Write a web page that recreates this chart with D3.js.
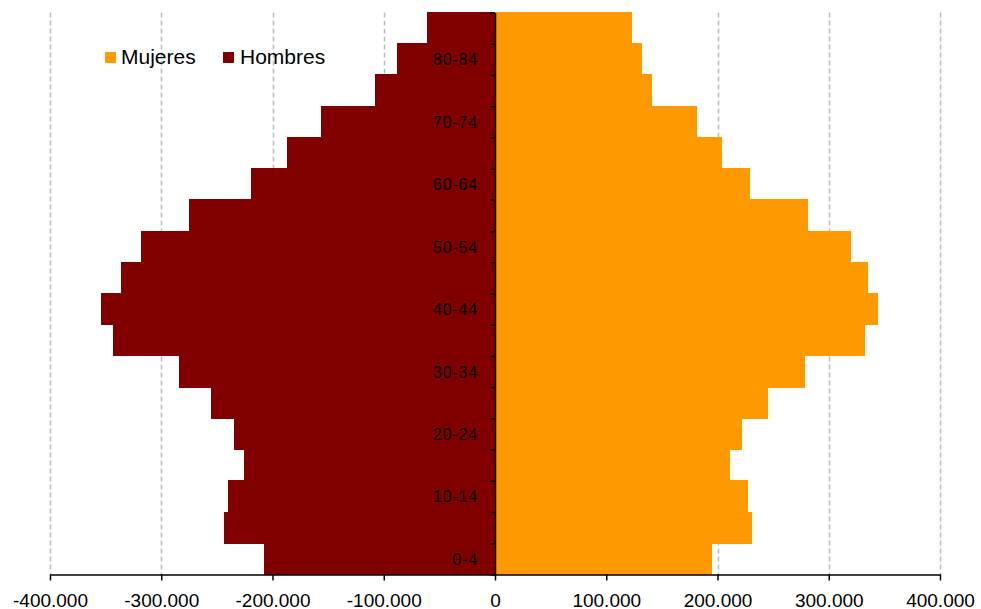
<!DOCTYPE html>
<html>
<head>
<meta charset="utf-8">
<script src="https://cdn.jsdelivr.net/npm/d3@7"></script>
<style>
  html, body { margin: 0; padding: 0; background: #fff; }
  svg { display: block; font-family: "Liberation Sans", Arial, sans-serif; }
</style>
</head>
<body>
<svg id="chart" width="981" height="609"></svg>
<script>
const ages = ["0-4","5-9","10-14","15-19","20-24","25-29","30-34","35-39","40-44","45-49","50-54","55-59","60-64","65-69","70-74","75-79","80-84","85+"];
const hombres = [208000, 244000, 240000, 226000, 235000, 255000, 284000, 343000, 354000, 336000, 318000, 275000, 219000, 187000, 156000, 108000, 88000, 61000];
const mujeres = [195000, 231000, 227000, 211000, 222000, 245000, 279000, 333000, 344000, 335000, 320000, 281000, 229000, 204000, 182000, 141000, 132000, 123000];
const xTicks = [-400000, -300000, -200000, -100000, 0, 100000, 200000, 300000, 400000];
const seriesNames = ["Mujeres", "Hombres"];
const seriesColors = ["#ff9900", "#800000"];

const svg = d3.select("#chart");
const x = d3.scaleLinear().domain([-400000, 400000]).range([50, 940]);
const y = d3.scaleBand().domain(ages).range([574.5, 12.5]).padding(0);
const yIdx = d3.scaleLinear().domain([0, ages.length]).range([574.5, 12.5]);

const loc = d3.formatLocale({decimal: ",", thousands: ".", grouping: [3], currency: ["", ""], minus: "-"});
const fmt = loc.format(",");

// gridlines
svg.append("g").selectAll("line")
  .data(xTicks.filter(d => d !== 0))
  .join("line")
  .attr("x1", d => Math.round(x(d)) + 0.5)
  .attr("x2", d => Math.round(x(d)) + 0.5)
  .attr("y1", 12.5).attr("y2", 574.5)
  .attr("stroke", "#bdbdbd").attr("stroke-width", 1.5)
  .attr("stroke-dasharray", "5,3");

// bars
const rows = ages.map((a, i) => ({age: a, h: hombres[i], m: mujeres[i]}));
svg.append("g").attr("shape-rendering", "crispEdges").selectAll("rect").data(rows).join("rect")
  .attr("x", d => x(-d.h)).attr("width", d => x(0) - x(-d.h))
  .attr("y", d => y(d.age) - 0.5).attr("height", y.bandwidth() + 1)
  .attr("fill", seriesColors[1]);
svg.append("g").attr("shape-rendering", "crispEdges").selectAll("rect").data(rows).join("rect")
  .attr("x", x(0)).attr("width", d => x(d.m) - x(0))
  .attr("y", d => y(d.age) - 0.5).attr("height", y.bandwidth() + 1)
  .attr("fill", seriesColors[0]);

// x axis
const xAxis = svg.append("g").attr("transform", "translate(0,574.5)")
  .call(d3.axisBottom(x).tickValues(xTicks).tickSize(6).tickSizeOuter(0).tickFormat(fmt));
xAxis.select(".domain").attr("stroke", "#000").attr("stroke-width", 1.5);
xAxis.selectAll(".tick line").attr("stroke", "#000").attr("stroke-width", 1.5);
xAxis.selectAll("text").attr("font-size", 19).attr("fill", "#000").attr("dy", 0).attr("y", 32)
  .attr("font-family", "Liberation Sans, Arial, sans-serif");

// y axis (ticks at band boundaries)
const yAxis = svg.append("g").attr("transform", `translate(${x(0)},0)`)
  .call(d3.axisLeft(yIdx).ticks(ages.length).tickSize(5).tickSizeOuter(0).tickFormat(""));
yAxis.select(".domain").attr("stroke", "#000").attr("stroke-width", 1.5);
yAxis.selectAll(".tick line").attr("stroke", "#000").attr("stroke-width", 1.5);

// y labels every other band
svg.append("g").selectAll("text")
  .data(ages.filter((a, i) => i % 2 === 0))
  .join("text")
  .attr("x", x(0) - 17)
  .attr("y", d => y(d) + y.bandwidth() / 2 + 6)
  .attr("text-anchor", "end")
  .attr("font-size", 16)
  .attr("letter-spacing", "0.8px")
  .attr("fill", "#000")
  .text(d => d);

// legend
const legend = svg.append("g");
const legPos = [{sx: 105, tx: 121}, {sx: 223, tx: 240}];
seriesNames.forEach((n, i) => {
  legend.append("rect").attr("x", legPos[i].sx).attr("y", 52).attr("width", 11).attr("height", 11)
    .attr("fill", seriesColors[i]);
  legend.append("text").attr("x", legPos[i].tx).attr("y", 63.5)
    .attr("font-size", 21).attr("fill", "#000").text(n);
});
</script>
</body>
</html>
